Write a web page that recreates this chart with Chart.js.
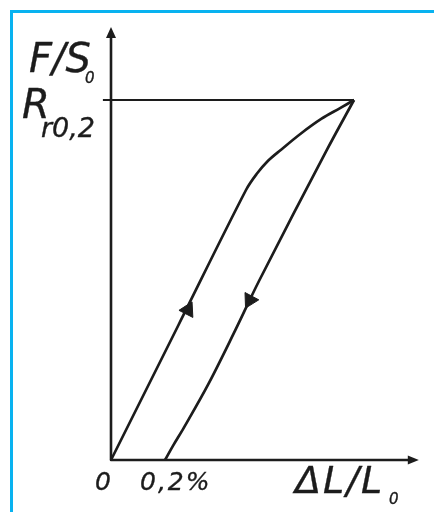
<!DOCTYPE html>
<html>
<head>
<meta charset="utf-8">
<script src="https://cdn.jsdelivr.net/npm/chart.js@4.4.1/dist/chart.umd.min.js"></script>
<style>
  html, body { margin: 0; padding: 0; background: #fff; overflow: hidden; }
  #wrap { position: relative; width: 434px; height: 512px; }
  #frame {
    position: absolute; left: 10px; top: 10px; width: 600px; height: 700px;
    border-left: 3px solid #08b2f0; border-top: 3px solid #08b2f0;
  }
  canvas { position: absolute; left: 0; top: 0; }
</style>
</head>
<body>
<div id="wrap">
  <div id="frame"></div>
  <canvas id="chart" width="434" height="512"></canvas>
</div>
<script>
// strain in %, stress relative to Rr0,2
const loadStrain = [0, 0.25, 0.50, 0.54, 0.58, 0.63, 0.70, 0.78, 0.85, 0.90];
const loadStress = [0, 0.375, 0.75, 0.795, 0.83, 0.862, 0.905, 0.948, 0.978, 1.0];
const unloadStrain = [0.20, 0.23, 0.27, 0.36, 0.46, 0.55, 0.80, 0.90];
const unloadStress = [0, 0.04, 0.09, 0.21, 0.36, 0.50, 0.862, 1.0];
const proofStress = 1.0;           // Rr0,2
const proofLineStrain = [-0.03, 0.90];
const arrowStrain = [0.285, 0.514];
const arrowStress = [0.417, 0.444];
const arrowAngle = [27, 208];
const offsetLabel = '0,2%';

const ink = '#1c1c1c';
const toPts = (xs, ys) => xs.map((x, i) => ({ x: x, y: ys[i] }));

// draw text a bit heavier, like the pen lettering
function penText(ctx, txt, x, y) {
  ctx.fillText(txt, x, y);
  ctx.strokeText(txt, x, y);
}

// axes with arrowheads + handwritten labels
const sketchPlugin = {
  id: 'sketch',
  afterDatasetsDraw(chart) {
    const ctx = chart.ctx;
    const xs = chart.scales.x, ys = chart.scales.y;
    const area = chart.chartArea;
    const ox = xs.getPixelForValue(0);
    const oy = ys.getPixelForValue(0);
    const ry = ys.getPixelForValue(proofStress);

    ctx.save();
    ctx.strokeStyle = ink;
    ctx.fillStyle = ink;
    ctx.lineWidth = 2.6;
    ctx.lineCap = 'round';
    ctx.beginPath();
    ctx.moveTo(ox, oy);
    ctx.lineTo(ox, area.top + 6);
    ctx.moveTo(ox, oy);
    ctx.lineTo(area.right - 6, oy);
    ctx.stroke();

    // arrowheads
    ctx.beginPath();
    ctx.moveTo(ox, area.top - 1);
    ctx.lineTo(ox - 5, area.top + 10);
    ctx.lineTo(ox + 5, area.top + 10);
    ctx.closePath();
    ctx.fill();
    ctx.beginPath();
    ctx.moveTo(area.right, oy);
    ctx.lineTo(area.right - 11, oy - 4.5);
    ctx.lineTo(area.right - 11, oy + 4.5);
    ctx.closePath();
    ctx.fill();

    // labels
    const big = 'italic 40px "DejaVu Sans"';
    ctx.textBaseline = 'alphabetic';
    ctx.textAlign = 'left';
    ctx.lineWidth = 0.35;
    ctx.lineJoin = 'round';

    ctx.font = big;
    penText(ctx, 'F/S', ox - 82, ry - 28);
    ctx.font = 'italic 15px "DejaVu Sans"';
    penText(ctx, '0', ox - 26, ry - 17);

    ctx.font = big;
    penText(ctx, 'R', ox - 89, ry + 18);
    ctx.font = 'italic 27px "DejaVu Sans"';
    penText(ctx, 'r0,2', ox - 70, ry + 37);

    ctx.font = 'italic 25px "DejaVu Sans"';
    ctx.textAlign = 'center';
    penText(ctx, '0', ox - 8, oy + 30);
    ctx.textAlign = 'left';
    ctx.letterSpacing = '2px';
    penText(ctx, offsetLabel, ox + 29, oy + 30);

    ctx.font = 'italic 38px "DejaVu Sans"';
    ctx.letterSpacing = '2px';
    penText(ctx, '\u0394L/L', ox + 184, oy + 33);
    ctx.letterSpacing = '0px';
    ctx.font = 'italic 15px "DejaVu Sans"';
    penText(ctx, '0', ox + 278, oy + 44);
    ctx.restore();
  }
};

new Chart(document.getElementById('chart'), {
  type: 'scatter',
  data: {
    datasets: [
      {
        label: 'loading',
        data: toPts(loadStrain, loadStress),
        showLine: true,
        borderColor: ink,
        borderWidth: 2.7,
        pointRadius: 0,
        tension: 0.35,
        clip: false
      },
      {
        label: 'unloading',
        data: toPts(unloadStrain, unloadStress),
        showLine: true,
        borderColor: ink,
        borderWidth: 2.7,
        pointRadius: 0,
        tension: 0.35,
        clip: false
      },
      {
        label: 'Rr0,2',
        data: toPts(proofLineStrain, proofLineStrain.map(() => proofStress)),
        showLine: true,
        borderColor: ink,
        borderWidth: 1.8,
        pointRadius: 0,
        clip: false
      },
      {
        label: 'direction',
        data: toPts(arrowStrain, arrowStress),
        pointStyle: 'triangle',
        rotation: arrowAngle,
        pointRadius: 9,
        backgroundColor: ink,
        borderColor: ink,
        borderWidth: 1,
        clip: false
      }
    ]
  },
  options: {
    responsive: false,
    animation: false,
    layout: { padding: { left: 97.5, right: 15.2, top: 28, bottom: 34 } },
    scales: {
      x: { display: false, min: -0.05, max: 1.14 },
      y: { display: false, min: -0.05, max: 1.2 }
    },
    plugins: {
      legend: { display: false },
      tooltip: { enabled: false }
    }
  },
  plugins: [sketchPlugin]
});
</script>
</body>
</html>
